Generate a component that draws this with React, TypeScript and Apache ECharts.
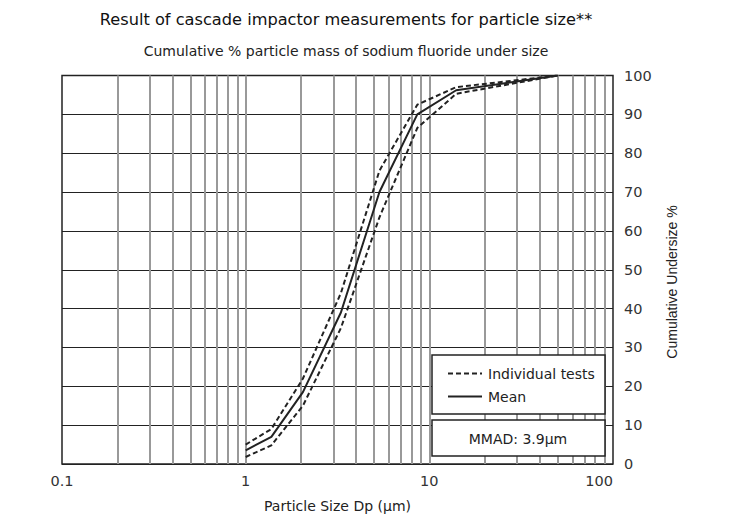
import React, { useEffect, useRef } from "react";
import * as echarts from "echarts";

const sizes = [1.0, 1.38, 2.05, 3.3, 5.35, 8.6, 14, 50];
const meanVals = [3.5, 7, 18.5, 39, 70, 90, 96.2, 100];
const upperVals = [5, 9, 22, 44, 75.5, 92.5, 97, 100];
const lowerVals = [1.8, 4.8, 15, 35, 63.5, 86.5, 95.3, 100];
const verticalGrid = [
  0.2, 0.3, 0.4, 0.5, 0.6, 0.7, 0.8, 0.9, 1, 2, 3, 4, 5, 6, 7, 8, 9, 10, 20,
  30, 40, 50, 60, 70, 80, 90,
];

const WIDE = "DejaVu Sans, Verdana, sans-serif";
const FONT = "Liberation Sans, Arial, sans-serif";
const INK = "#222";

export default function App() {
  const ref = useRef<HTMLDivElement>(null);
  useEffect(() => {
    if (!ref.current) return;
    const chart = echarts.init(ref.current, undefined, { renderer: "svg" });
    const pairs = (vals: number[]) => sizes.map((s, i) => [s, vals[i]]);
    chart.setOption({
      animation: false,
      backgroundColor: "#fff",
      textStyle: { fontFamily: WIDE },
      title: [
        {
          text: "Result of cascade impactor measurements for particle size**",
          left: 341,
          top: 6,
          textAlign: "center",
          textStyle: { fontSize: 16.2, fontWeight: "normal", color: "#111", fontFamily: WIDE },
        },
        {
          text: "Cumulative % particle mass of sodium fluoride under size",
          left: 341,
          top: 39,
          textAlign: "center",
          textStyle: { fontSize: 14, fontWeight: "normal", color: "#222", fontFamily: WIDE },
        },
      ],
      grid: {
        left: 62,
        right: 131,
        top: 75.5,
        bottom: 54,
        show: true,
        borderColor: INK,
        borderWidth: 1.5,
        backgroundColor: "transparent",
      },
      xAxis: {
        type: "log",
        logBase: 10,
        min: 0.1,
        max: 100,
        name: "Particle Size Dp (µm)",
        nameLocation: "middle",
        nameGap: 35,
        nameTextStyle: { fontSize: 14, color: "#222", fontFamily: WIDE },
        axisLine: { show: false },
        axisTick: { show: false },
        splitLine: { show: false },
        axisLabel: {
          fontSize: 14.5,
          color: "#333",
          margin: 9,
          fontFamily: WIDE,
          alignMaxLabel: "right",
          formatter: (v: number) => String(v),
        },
      },
      yAxis: {
        type: "value",
        position: "right",
        min: 0,
        max: 100,
        interval: 10,
        axisLine: { show: false },
        axisTick: { show: false },
        axisLabel: { fontSize: 14.5, color: "#333", margin: 11, fontFamily: WIDE },
        splitLine: { show: true, lineStyle: { color: INK, width: 1 } },
      },
      series: [
        {
          type: "line",
          name: "grid",
          data: [],
          silent: true,
          markLine: {
            silent: true,
            symbol: ["none", "none"],
            label: { show: false },
            lineStyle: { color: "#999", width: 2, type: "solid" },
            data: verticalGrid.map((v) => ({ xAxis: v })),
          },
        },
        {
          type: "line",
          name: "Individual tests",
          data: pairs(upperVals),
          showSymbol: false,
          lineStyle: { color: INK, width: 2, type: [5, 3] },
          z: 5,
        },
        {
          type: "line",
          name: "Individual tests 2",
          data: pairs(lowerVals),
          showSymbol: false,
          lineStyle: { color: INK, width: 2, type: [5, 3] },
          z: 5,
        },
        {
          type: "line",
          name: "Mean",
          data: pairs(meanVals),
          showSymbol: false,
          lineStyle: { color: INK, width: 2 },
          z: 6,
        },
      ],
      graphic: [
        {
          type: "text",
          x: 672,
          y: 282,
          rotation: Math.PI / 2,
          style: {
            text: "Cumulative Undersize %",
            fontSize: 14,
            fontFamily: FONT,
            fill: "#222",
            align: "center",
            verticalAlign: "middle",
          },
        },
        {
          type: "rect",
          shape: { x: 432, y: 355, width: 173, height: 59 },
          style: { fill: "#fff", stroke: INK, lineWidth: 1.5 },
          z: 100,
        },
        {
          type: "line",
          shape: { x1: 448, y1: 373.5, x2: 482, y2: 373.5 },
          style: { stroke: INK, lineWidth: 2, lineDash: [5, 3] },
          z: 101,
        },
        {
          type: "text",
          x: 488,
          y: 373.5,
          style: {
            text: "Individual tests",
            fontSize: 14,
            fontFamily: WIDE,
            fill: "#222",
            verticalAlign: "middle",
          },
          z: 101,
        },
        {
          type: "line",
          shape: { x1: 448, y1: 396.5, x2: 482, y2: 396.5 },
          style: { stroke: INK, lineWidth: 2 },
          z: 101,
        },
        {
          type: "text",
          x: 488,
          y: 396.5,
          style: {
            text: "Mean",
            fontSize: 14,
            fontFamily: WIDE,
            fill: "#222",
            verticalAlign: "middle",
          },
          z: 101,
        },
        {
          type: "rect",
          shape: { x: 432, y: 420, width: 173, height: 36 },
          style: { fill: "#fff", stroke: INK, lineWidth: 1.5 },
          z: 100,
        },
        {
          type: "text",
          x: 518,
          y: 438.5,
          style: {
            text: "MMAD: 3.9µm",
            fontSize: 14,
            fontFamily: WIDE,
            fill: "#222",
            align: "center",
            verticalAlign: "middle",
          },
          z: 101,
        },
      ],
    });
    return () => chart.dispose();
  }, []);
  return (
    <div
      ref={ref}
      style={{ position: "absolute", left: 0, top: 0, width: 744, height: 518 }}
    />
  );
}
